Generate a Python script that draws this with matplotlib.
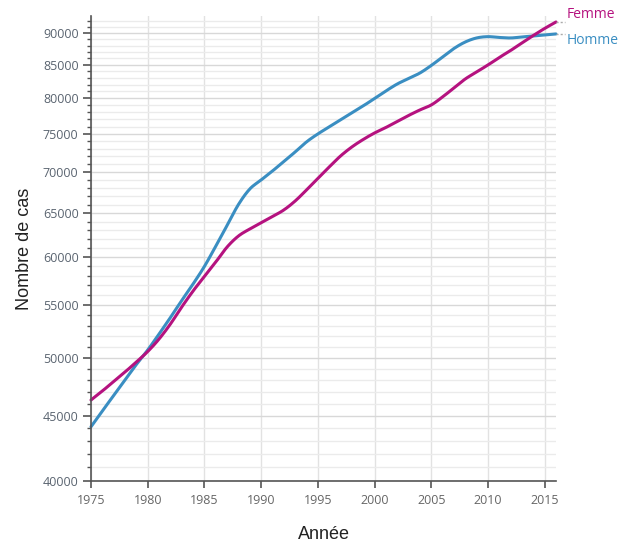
import matplotlib
matplotlib.use("Agg")
import matplotlib.pyplot as plt
import numpy as np
from matplotlib.ticker import FixedLocator, NullFormatter, FuncFormatter

years = list(range(1975, 2017))
homme = [44130, 45410, 46700, 48030, 49400, 50710, 52200, 53780, 55470, 57150,
         59000, 61200, 63550, 66000, 67880, 69000, 70130, 71350, 72590, 73920,
         75000, 75950, 76920, 77900, 78900, 79980, 81070, 82100, 82920, 83750,
         84900, 86220, 87550, 88590, 89240, 89450, 89320, 89240, 89400, 89560,
         89720, 89890]
femme = [46320, 47080, 47900, 48730, 49620, 50570, 51730, 53150, 54820, 56430,
         57940, 59470, 61110, 62340, 63140, 63860, 64580, 65350, 66420, 67760,
         69190, 70640, 72060, 73250, 74250, 75130, 75880, 76710, 77550, 78330,
         79040, 80200, 81520, 82850, 83910, 84980, 86140, 87240, 88440, 89640,
         90790, 91860]
y_major = [40000, 45000, 50000, 55000, 60000, 65000, 70000, 75000, 80000, 85000, 90000]
x_ticks = [1975, 1980, 1985, 1990, 1995, 2000, 2005, 2010, 2015]

C_F = "#b5127f"
C_H = "#3a8ec2"


def smooth(xs, ys, n=12):
    """Catmull-Rom spline through the data points (in log space)."""
    x = np.asarray(xs, float)
    y = np.log10(np.asarray(ys, float))
    xp = np.concatenate([[2 * x[0] - x[1]], x, [2 * x[-1] - x[-2]]])
    yp = np.concatenate([[2 * y[0] - y[1]], y, [2 * y[-1] - y[-2]]])
    ox, oy = [], []
    t = np.linspace(0, 1, n, endpoint=False)
    for i in range(1, len(xp) - 2):
        p0, p1, p2, p3 = yp[i - 1], yp[i], yp[i + 1], yp[i + 2]
        q0, q1, q2, q3 = xp[i - 1], xp[i], xp[i + 1], xp[i + 2]
        f = lambda a0, a1, a2, a3: 0.5 * ((2 * a1) + (-a0 + a2) * t +
                                          (2 * a0 - 5 * a1 + 4 * a2 - a3) * t ** 2 +
                                          (-a0 + 3 * a1 - 3 * a2 + a3) * t ** 3)
        ox.append(f(q0, q1, q2, q3))
        oy.append(f(p0, p1, p2, p3))
    ox.append([x[-1]])
    oy.append([y[-1]])
    return np.concatenate(ox), 10 ** np.concatenate(oy)


fig = plt.figure(figsize=(6.23, 5.42), dpi=100)
ax = fig.add_axes([91/623, 61/542, 465/623, 465/542])

ax.set_yscale("log")
ax.set_ylim(40000, 92860)
ax.set_xlim(1975, 2016)

minor = [v for v in range(41000, 93000, 1000) if v % 5000 != 0]
ax.yaxis.set_major_locator(FixedLocator(y_major))
ax.yaxis.set_minor_locator(FixedLocator(minor))
ax.yaxis.set_major_formatter(FuncFormatter(lambda v, p: f"{int(round(v))}"))
ax.yaxis.set_minor_formatter(NullFormatter())
ax.xaxis.set_major_locator(FixedLocator(x_ticks))

ax.grid(which="major", axis="y", color="#d8d8d8", lw=1.0)
ax.grid(which="minor", axis="y", color="#ebebeb", lw=1.0)
ax.grid(which="major", axis="x", color="#e2e2e2", lw=1.0)
ax.set_axisbelow(True)

for s in ["top", "right"]:
    ax.spines[s].set_visible(False)
for s in ["left", "bottom"]:
    ax.spines[s].set_color("#555555")
    ax.spines[s].set_linewidth(1.2)

ax.tick_params(axis="y", which="major", length=6, width=1.2, color="#555555",
               labelsize=9, labelcolor="#5a6470", pad=3)
ax.tick_params(axis="y", which="minor", length=3, width=1, color="#555555")
ax.tick_params(axis="x", which="major", length=5, width=1.2, color="#555555",
               labelsize=9, labelcolor="#666666", pad=4)
for lab in ax.get_yticklabels() + ax.get_xticklabels():
    lab.set_family("Open Sans")

hx, hy = smooth(years, homme)
fx, fy = smooth(years, femme)
ax.plot(hx, hy, color=C_H, lw=2.2, solid_capstyle="round", clip_on=False)
ax.plot(fx, fy, color=C_F, lw=2.2, solid_capstyle="round", clip_on=False)

# connectors and labels
ax.plot([2016, 2016.8], [femme[-1], femme[-1]], color="#aaaaaa", lw=1, ls=(0, (1.5, 1.5)), clip_on=False)
ax.plot([2016, 2016.8], [homme[-1], homme[-1]], color="#aaaaaa", lw=1, ls=(0, (1.5, 1.5)), clip_on=False)
fig.text(567/623, 1 - 14/542, "Femme", color=C_F, fontsize=10, va="center", ha="left", family="Open Sans")
fig.text(567/623, 1 - 40/542, "Homme", color=C_H, fontsize=10, va="center", ha="left", family="Open Sans")

ax.set_xlabel("Année", fontsize=13, family="Liberation Sans", color="#222222", labelpad=14)
ax.set_ylabel("Nombre de cas", fontsize=13, family="Liberation Sans", color="#222222", labelpad=7)

fig.savefig("out.png", dpi=100)
